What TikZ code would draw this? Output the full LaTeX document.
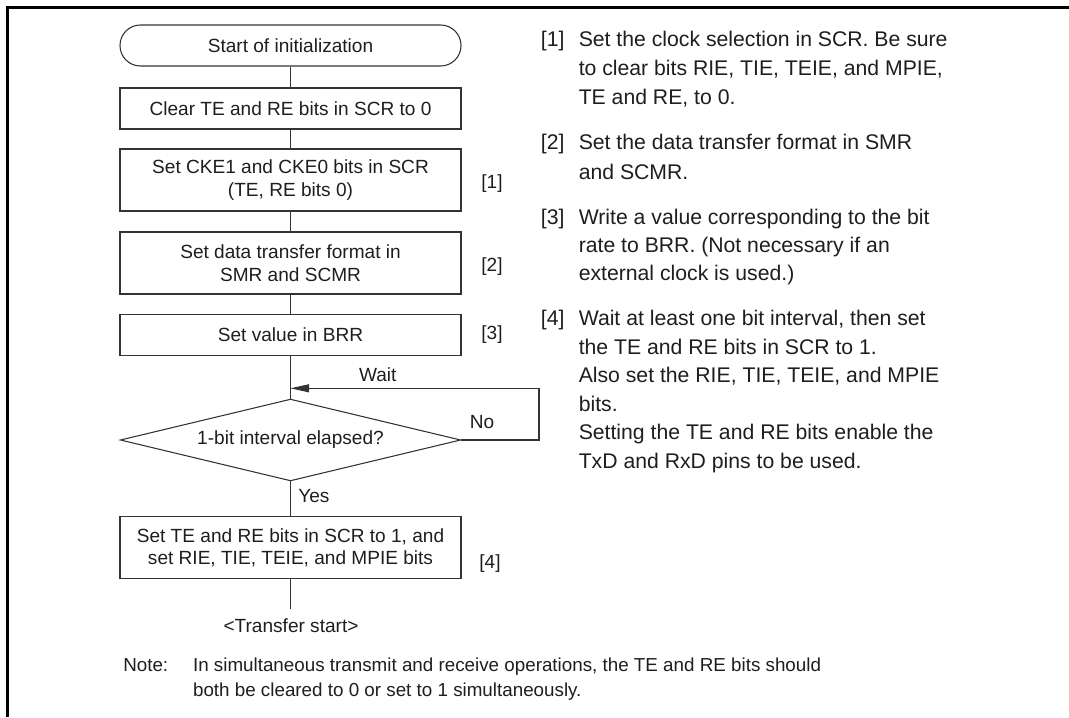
\documentclass[tikz,border=0pt]{standalone}
\usepackage{fontspec}
\setmainfont{Liberation Sans}
\usetikzlibrary{shapes.geometric,arrows.meta}
\definecolor{ink}{HTML}{1E1E1E}
\definecolor{edge}{HTML}{333333}
\begin{document}
\begin{tikzpicture}[x=0.75pt,y=-0.75pt,
  fc/.style={font=\fontsize{14.3pt}{17pt}\selectfont},
  rt/.style={font=\fontsize{15.9pt}{21.4pt}\selectfont,inner sep=0pt,anchor=base west,text=ink},
  nt/.style={font=\fontsize{14.1pt}{18.75pt}\selectfont,inner sep=0pt,anchor=base west,text=ink},
  procbox/.style={draw=edge,line width=0.8pt,minimum width=255.75pt,align=center,fc,inner sep=0pt,text=ink},
  termbox/.style={procbox,rounded corners=15.3pt,minimum height=30.75pt},
  decline/.style={draw=edge,line width=0.8pt,line join=miter},
  conn/.style={draw=edge,line width=0.8pt},
  lbl/.style={fc,inner sep=0pt,text=ink},
  frame/.style={line width=1.9pt,black}
]
\useasboundingbox (0,0) rectangle (1069,717);
% frame
\draw[frame] (7.3,717) -- (7.3,7.3) -- (1069,7.3);

% flowchart
\node[termbox] (start) at (290.5,45.5) {Start of initialization};
\node[procbox,minimum height=30.75pt] (b1) at (290.5,108.5) {Clear TE and RE bits in SCR to 0};
\node[procbox,minimum height=46.5pt] (b2) at (290.5,180) {Set CKE1 and CKE0 bits in SCR\\(TE, RE bits 0)};
\node[procbox,minimum height=46.5pt] (b3) at (290.5,263) {Set data transfer format in\\SMR and SCMR};
\node[procbox,minimum height=30.75pt] (b4) at (290.5,335) {Set value in BRR};

% decision diamond
\coordinate (dtop) at (290.5,399.3);
\coordinate (dright) at (460.5,440);
\coordinate (dbot) at (290.5,480.7);
\coordinate (dleft) at (120.5,440);
\draw[decline] (dtop) -- (dright) -- (dbot) -- (dleft) -- cycle;
\node[lbl] (dec) at (290.5,440) {1-bit interval elapsed?};

\node[procbox,minimum height=46.5pt] (b5) at (290.5,547.7) {Set TE and RE bits in SCR to 1, and\\set RIE, TIE, TEIE, and MPIE bits};
\coordinate (waitpt) at (290.5,388.3);
\coordinate (loopR) at (539,388.3);
\coordinate (endpt) at (290.5,609.3);

\draw[conn] (start.south) -- (b1.north);
\draw[conn] (b1.south) -- (b2.north);
\draw[conn] (b2.south) -- (b3.north);
\draw[conn] (b3.south) -- (b4.north);
\draw[conn] (b4.south) -- (dtop);
\draw[conn] (dbot) -- (b5.north);
\draw[conn] (b5.south) -- (endpt);
\draw[conn,-{Triangle[length=14pt,width=6pt]}] (dright) -| (loopR) -- (waitpt);

\node[lbl] (wait) at (377.8,375) {Wait};
\node[lbl] (no) at (482,421.7) {No};
\node[lbl,anchor=west] (yes) at (298,495.7) {Yes};
\node[lbl] (tstart) at (291,625.7) {<Transfer start>};

\node[lbl] (m1) at (492,184) {[1]};
\node[lbl] (m2) at (492,266.7) {[2]};
\node[lbl] (m3) at (492,335) {[3]};
\node[lbl] (m4) at (490,564) {[4]};

% right column
\node[rt] (k1) at (540.7,46.8) {[1]};
\node[rt] (r1a) at (578.5,46.8) {Set the clock selection in SCR. Be sure};
\node[rt] (r1b) at (578.5,75.8) {to clear bits RIE, TIE, TEIE, and MPIE,};
\node[rt] (r1c) at (578.5,104.2) {TE and RE, to 0.};
\node[rt] (k2) at (540.7,149.2) {[2]};
\node[rt] (r2a) at (578.5,149.2) {Set the data transfer format in SMR};
\node[rt] (r2b) at (578.5,179.2) {and SCMR.};
\node[rt] (k3) at (540.7,224.2) {[3]};
\node[rt] (r3a) at (578.5,224.2) {Write a value corresponding to the bit};
\node[rt] (r3b) at (578.5,252.5) {rate to BRR. (Not necessary if an};
\node[rt] (r3c) at (578.5,280.8) {external clock is used.)};
\node[rt] (k4) at (540.7,325.8) {[4]};
\node[rt] (r4a) at (578.5,325.8) {Wait at least one bit interval, then set};
\node[rt] (r4b) at (578.5,354.3) {the TE and RE bits in SCR to 1.};
\node[rt] (r4c) at (578.5,382.8) {Also set the RIE, TIE, TEIE, and MPIE};
\node[rt] (r4d) at (578.5,411.3) {bits.};
\node[rt] (r4e) at (578.5,439.8) {Setting the TE and RE bits enable the};
\node[rt] (r4f) at (578.5,468.3) {TxD and RxD pins to be used.};

% note
\node[nt] (note) at (123,671.8) {Note:};
\node[nt] (n1) at (192.8,671.8) {In simultaneous transmit and receive operations, the TE and RE bits should};
\node[nt] (n2) at (192.8,696.8) {both be cleared to 0 or set to 1 simultaneously.};
\end{tikzpicture}
\end{document}
